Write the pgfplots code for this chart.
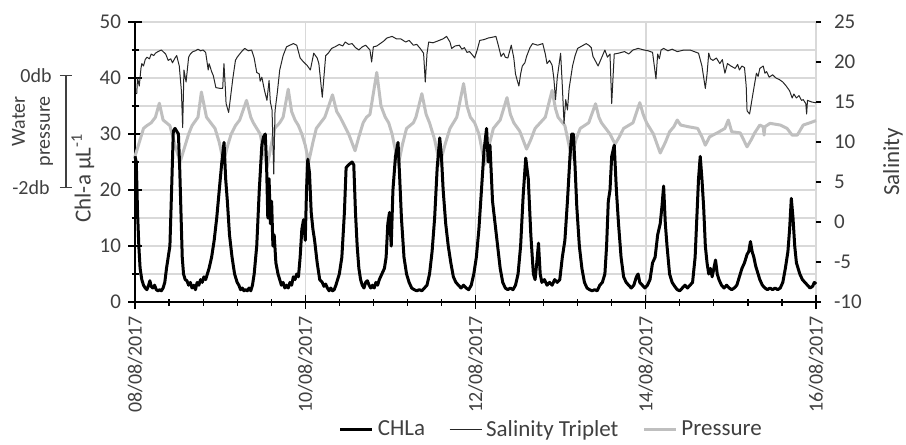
\documentclass[border=0pt]{standalone}
\usepackage{fontspec}
\setmainfont{Carlito}
\usepackage{pgfplots}
\pgfplotsset{compat=1.18}
\definecolor{gridc}{RGB}{217,217,217}
\definecolor{txt}{RGB}{64,64,64}
\definecolor{pres}{RGB}{191,191,191}

\newcommand{\tickfont}{\fontsize{10}{12}\selectfont}
\newcommand{\titlefont}{\fontsize{11.5}{13.5}\selectfont}

\begin{document}
\begin{tikzpicture}
\pgfplotsset{
  base/.style={
    width=340.5pt, height=140pt, scale only axis,
    xmin=0, xmax=8,
    /pgf/number format/assume math mode=true,
    tick label style={font=\tickfont, text=txt},
  }
}
\begin{axis}[
    base,
    ymin=0, ymax=50,
    axis x line*=bottom, axis y line*=left,
    axis line style={-},
    x axis line style={black, line width=0.75pt},
    y axis line style={black, line width=1pt},
    xtick={0,2,4,6,8},
    xticklabels={08/08/2017,10/08/2017,12/08/2017,14/08/2017,16/08/2017},
    minor x tick num=4,
    ytick={0,10,...,50}, minor ytick={5,15,...,45},
    xmajorgrids, ymajorgrids, yminorgrids,
    major grid style={gridc, line width=0.75pt},
    minor grid style={gridc, line width=0.75pt},
    tick align=center, major tick length=7pt, minor tick length=3.5pt,
    tick style={black, line width=0.6pt},
    x tick label style={rotate=90, anchor=east},
    y tick label style={font=\fontsize{10.5}{12}\selectfont},
    ylabel={Chl-a µL\textsuperscript{-1}},
    ylabel style={at={([xshift=-26pt]axis description cs:0,0.443)}, anchor=center, font=\titlefont, text=txt},
    clip=false,
  ]
  \addplot[pres, line width=1.5pt, line join=round] coordinates {
    (0,26) (0.06,29) (0.10,31) (0.14,31.5) (0.19,32) (0.24,33) (0.286,35.5) (0.33,32.5) (0.37,32) (0.41,31.5)
    (0.47,28) (0.53,25) (0.59,28) (0.63,30) (0.67,31.5) (0.74,33) (0.78,37.5) (0.84,33) (0.89,32) (0.94,31)
    (0.99,28.5) (1.04,25) (1.09,28) (1.13,30) (1.18,31.5) (1.23,32.5) (1.31,36) (1.36,33) (1.39,32) (1.43,31)
    (1.47,30) (1.51,27) (1.55,24) (1.60,28) (1.64,31) (1.70,32) (1.74,33) (1.80,38) (1.84,34) (1.88,32.5)
    (1.92,31.5) (1.96,30) (2.00,28) (2.04,25) (2.09,28.5) (2.13,31) (2.18,32) (2.23,33) (2.32,37) (2.37,34)
    (2.41,33) (2.46,31.5) (2.51,30) (2.585,27) (2.63,29.5) (2.68,32) (2.72,33) (2.76,33.5) (2.84,41) (2.89,35)
    (2.94,33) (2.98,32) (3.02,30) (3.094,24.5) (3.14,28) (3.19,31) (3.27,32) (3.30,33) (3.37,37.2) (3.42,33.5)
    (3.46,32) (3.52,29) (3.58,24.6) (3.64,28) (3.70,31) (3.78,33) (3.86,39) (3.90,35) (3.94,33) (3.99,32)
    (4.04,30) (4.11,24.6) (4.16,28) (4.21,31) (4.29,32.5) (4.37,36.5) (4.41,33.5) (4.45,32) (4.52,30.5) (4.60,27.3)
    (4.65,29) (4.70,31) (4.76,32) (4.82,33) (4.90,37.8) (4.94,34.5) (4.97,33) (5.05,31.5) (5.13,25.7) (5.18,29)
    (5.23,31) (5.33,32) (5.41,35.4) (5.45,33) (5.48,32) (5.58,30) (5.64,28.2) (5.69,29.5) (5.74,31) (5.85,32)
    (5.93,35.6) (5.97,33.5) (6.01,32) (6.09,30) (6.17,26.6) (6.23,28.5) (6.28,30.4) (6.33,31.3) (6.37,32.5) (6.41,31.6)
    (6.50,31.3) (6.61,31) (6.66,29.5) (6.70,28) (6.75,29.5) (6.84,30.2) (6.93,31) (6.97,32.5) (7.01,30.4) (7.11,30.2)
    (7.19,27.7) (7.24,29) (7.28,30.2) (7.34,31.6) (7.38,31.3) (7.39,29.8) (7.40,31.3) (7.46,31.9) (7.58,31.6) (7.66,31)
    (7.72,29.8) (7.78,29.8) (7.85,31.6) (7.93,32) (8.0,32.4)
  };
  \addplot[black, line width=1.5pt, line join=round] coordinates {
    (0,26) (0.015,25) (0.03,16) (0.045,10) (0.06,6) (0.08,4) (0.10,3) (0.12,2.5) (0.14,2.2) (0.16,3)
    (0.175,3.8) (0.19,2.8) (0.21,2.5) (0.23,3) (0.25,2.2) (0.27,2) (0.29,2.2) (0.31,2) (0.33,2.5) (0.35,3.5)
    (0.37,6) (0.39,8) (0.41,10) (0.43,20) (0.45,30.5) (0.47,31) (0.49,30.5) (0.51,30) (0.525,24) (0.54,16)
    (0.555,8) (0.57,5) (0.59,4) (0.61,3.8) (0.63,3) (0.65,3.5) (0.67,2.5) (0.69,3) (0.71,2.2) (0.73,3.5)
    (0.75,3) (0.77,4) (0.79,3.5) (0.81,4.5) (0.83,4) (0.85,5) (0.87,6) (0.90,8) (0.93,11) (0.96,15)
    (0.99,20) (1.02,25) (1.046,28.5) (1.065,22) (1.085,18) (1.11,12) (1.14,8) (1.17,5) (1.20,3.5) (1.22,3)
    (1.24,2.2) (1.26,2.5) (1.28,2) (1.30,2.2) (1.32,2) (1.34,2.5) (1.36,2) (1.38,3) (1.40,5) (1.43,10)
    (1.46,20) (1.49,28) (1.51,29.5) (1.53,30) (1.545,25) (1.56,15) (1.575,22) (1.59,14) (1.605,18) (1.62,10)
    (1.635,12) (1.655,7) (1.68,5) (1.70,4) (1.72,3) (1.74,3.5) (1.76,2.5) (1.78,3) (1.80,2.5) (1.82,3.5)
    (1.84,3) (1.86,4.5) (1.88,4) (1.90,5) (1.92,4.5) (1.94,8) (1.96,13) (1.98,14.7) (2.0,11) (2.015,20)
    (2.03,25.5) (2.05,23) (2.07,16) (2.09,13) (2.11,11) (2.14,7) (2.17,4) (2.20,3.5) (2.22,2.8) (2.24,3.2)
    (2.26,2.5) (2.28,2) (2.30,2.5) (2.32,2) (2.34,2.2) (2.36,3) (2.38,4) (2.40,5) (2.43,8) (2.46,16)
    (2.48,24) (2.51,24.5) (2.55,25) (2.57,24.5) (2.59,16) (2.61,10) (2.63,6) (2.65,4) (2.67,3) (2.69,2.5)
    (2.71,3.5) (2.73,3.8) (2.75,3) (2.77,2.5) (2.79,3) (2.81,2.5) (2.83,3.5) (2.85,3) (2.87,4) (2.90,5)
    (2.93,6) (2.95,8) (2.97,14) (2.99,16) (3.01,10) (3.03,20) (3.06,26) (3.09,28.5) (3.11,22) (3.13,15)
    (3.16,8) (3.19,5) (3.22,3.5) (3.25,2.5) (3.28,2.2) (3.31,2) (3.34,2.2) (3.37,2) (3.40,2.5) (3.43,3)
    (3.46,5) (3.49,9) (3.52,15) (3.55,24) (3.58,29.3) (3.60,26) (3.62,20) (3.65,14) (3.68,10) (3.71,7)
    (3.74,4.5) (3.77,3.5) (3.80,3) (3.83,2.5) (3.86,3) (3.89,2.5) (3.92,2.2) (3.95,3) (3.98,5) (4.01,8)
    (4.04,13) (4.07,20) (4.10,27) (4.13,31) (4.15,25) (4.17,28) (4.20,18) (4.23,14) (4.26,10) (4.29,6)
    (4.32,3.5) (4.35,2.5) (4.38,2.2) (4.41,2.5) (4.44,2.2) (4.47,3) (4.50,5) (4.53,10) (4.56,19) (4.59,25.7)
    (4.62,22) (4.65,12) (4.68,5) (4.70,4) (4.72,7) (4.74,10.5) (4.76,5) (4.78,3.5) (4.81,4) (4.84,3)
    (4.87,3.5) (4.90,3) (4.93,4) (4.96,3.5) (4.99,4) (5.02,8) (5.05,11) (5.08,18) (5.11,26) (5.13,30)
    (5.15,30) (5.17,24) (5.19,17) (5.22,10) (5.25,6) (5.28,3.5) (5.31,2.5) (5.34,2.2) (5.37,2) (5.40,2.2)
    (5.43,2) (5.46,3) (5.49,3.5) (5.52,5) (5.54,10) (5.56,18) (5.58,20) (5.60,26) (5.63,28) (5.655,20)
    (5.68,14) (5.71,8) (5.74,4.5) (5.77,3.5) (5.80,3) (5.83,2.5) (5.86,3) (5.89,4.5) (5.91,5) (5.93,3.5)
    (5.96,3) (5.99,2.5) (6.02,3) (6.05,4) (6.08,7) (6.11,8) (6.14,12) (6.17,14) (6.19,17) (6.21,20.7)
    (6.23,14) (6.25,10) (6.28,5) (6.31,3.5) (6.34,2.8) (6.37,2.2) (6.40,2) (6.43,2.5) (6.46,3) (6.49,2.5)
    (6.52,3) (6.55,3.5) (6.58,8) (6.60,15) (6.62,22) (6.64,26) (6.66,22) (6.68,17) (6.70,10) (6.72,7)
    (6.74,5) (6.76,6) (6.78,4.5) (6.80,6) (6.82,7.5) (6.84,5) (6.86,4) (6.89,3) (6.92,2.5) (6.95,3)
    (6.98,2.5) (7.01,2.2) (7.04,2.5) (7.07,3) (7.10,4.5) (7.13,6) (7.16,7) (7.19,8.5) (7.21,9) (7.23,10.8)
    (7.25,9) (7.27,8) (7.29,6.5) (7.31,5.5) (7.34,4) (7.37,3) (7.40,2.5) (7.43,2.2) (7.46,2.5) (7.49,2.2)
    (7.52,2.5) (7.55,2.2) (7.58,2.5) (7.61,3.5) (7.64,6) (7.67,9) (7.69,13) (7.71,18.5) (7.73,15) (7.75,10)
    (7.77,7) (7.79,6) (7.81,5) (7.84,4) (7.87,3.5) (7.90,3) (7.93,2.5) (7.96,2.8) (7.98,3.5) (8.0,3.2)
  };
  % water pressure scale bracket
  \draw[txt, line width=0.7pt] ([xshift=-34.5pt]axis cs:0,40.4) -- ([xshift=-34.5pt]axis cs:0,20.4);
  \draw[txt, line width=0.7pt] ([xshift=-37.5pt]axis cs:0,40.4) -- ([xshift=-31.5pt]axis cs:0,40.4);
  \draw[txt, line width=0.7pt] ([xshift=-37.5pt]axis cs:0,20.4) -- ([xshift=-31.5pt]axis cs:0,20.4);
  \node[anchor=east, font=\tickfont, text=txt, inner sep=0pt] at ([xshift=-41.5pt]axis cs:0,40.4) {0db};
  \node[anchor=east, font=\tickfont, text=txt, inner sep=0pt] at ([xshift=-42.5pt]axis cs:0,20.4) {-2db};
  \node[rotate=90, anchor=east, align=right, inner sep=0pt, text=txt,
        font=\fontsize{10}{12.5}\selectfont] at ([xshift=-51.25pt]rel axis cs:0,0.736) {Water\\pressure};
  \coordinate (bl) at (rel axis cs:0,0);
  \coordinate (tr) at (rel axis cs:1,1);
\end{axis}

\begin{axis}[
    base,
    ymin=-10, ymax=25,
    axis x line=none, axis y line*=right,
    axis line style={-},
    y axis line style={draw=none},
    ytick={-10,-5,...,25},
    tick align=outside, major tick length=2.5pt,
    tick style={black, line width=0.6pt},
    y tick label style={xshift=3pt, font=\fontsize{10.5}{12}\selectfont},
    ylabel={Salinity},
    ylabel style={at={([xshift=38.5pt]axis description cs:1,0.5)}, anchor=center, font=\titlefont, text=txt},
    legend columns=3,
    legend style={at={(rel axis cs:0.29,-0.457)}, anchor=west, draw=none,
      font=\titlefont, text=txt, fill=none,
      /tikz/every even column/.append style={column sep=10pt}},
    legend image code/.code={\draw[#1] (0pt,0pt) -- (16pt,0pt);},
  ]
  \addlegendimage{black, line width=1.5pt}
  \addlegendentry{CHLa}
  \addplot[black!85, line width=0.5pt, line join=round] coordinates {
    (0.02,16) (0.03,18) (0.05,17) (0.07,19.2) (0.08,19.8) (0.10,19.5) (0.12,20.3) (0.14,20.6) (0.17,20.4) (0.19,21)
    (0.22,20.8) (0.24,21.1) (0.27,21.3) (0.31,21.5) (0.34,21.2) (0.36,21) (0.39,20.2) (0.42,20.4) (0.44,19.9) (0.47,20.5)
    (0.49,20.8) (0.52,19.5) (0.545,16.4) (0.56,11.8) (0.575,19) (0.60,17.5) (0.63,20.6) (0.65,21) (0.68,21.3) (0.71,21.4)
    (0.74,21.6) (0.77,21.4) (0.80,21.5) (0.83,21.2) (0.86,19) (0.87,19.8) (0.88,19.5) (0.90,18.8) (0.92,18.3) (0.95,16.8)
    (1.0,16.7) (1.03,16.7) (1.045,19.8) (1.06,17) (1.07,14.8) (1.10,13.7) (1.12,15.4) (1.15,18) (1.18,20.2) (1.20,20.6)
    (1.23,21) (1.26,21.4) (1.29,21.7) (1.33,21.4) (1.37,21.5) (1.40,20.5) (1.43,18.7) (1.46,18.5) (1.47,17.6) (1.49,18.1)
    (1.52,16.5) (1.55,15.2) (1.575,17.7) (1.59,15) (1.61,14) (1.63,6) (1.645,13.9) (1.67,16) (1.70,19) (1.74,20.8)
    (1.78,21.9) (1.82,22.1) (1.86,22.3) (1.90,22.1) (1.94,20.5) (1.98,20) (2.02,19.6) (2.06,19) (2.10,21.1) (2.14,20.5)
    (2.16,19.8) (2.20,15.6) (2.24,20.8) (2.27,21.1) (2.31,21.7) (2.35,21.9) (2.40,22.2) (2.44,22) (2.47,22.5) (2.51,22.2)
    (2.55,22.3) (2.59,21.8) (2.63,21.5) (2.67,21.9) (2.71,22.1) (2.76,21.5) (2.78,20) (2.80,21.9) (2.84,22) (2.88,22.3)
    (2.92,22.6) (2.96,23) (3.02,23.2) (3.07,22.9) (3.12,22.9) (3.18,22.5) (3.22,22.7) (3.27,22.1) (3.31,22.2) (3.35,21.7)
    (3.39,21.1) (3.41,17.5) (3.43,21) (3.45,22.5) (3.50,22.4) (3.55,22.6) (3.62,22.9) (3.66,23.2) (3.70,22.5) (3.72,21.7)
    (3.76,22) (3.81,22.1) (3.84,21.6) (3.87,21.8) (3.90,21.2) (3.93,21.3) (3.97,20.8) (3.99,20.5) (4.02,21.5) (4.05,22.7)
    (4.10,22.8) (4.15,23) (4.20,23.1) (4.24,23.2) (4.27,22) (4.30,20.7) (4.33,21.1) (4.35,20.6) (4.38,20.5) (4.42,22.1)
    (4.45,20.5) (4.47,18.5) (4.49,17.7) (4.51,17) (4.53,18.5) (4.55,19.5) (4.58,19.9) (4.60,20.7) (4.64,21.8) (4.67,22.3)
    (4.73,22.1) (4.79,22.3) (4.82,21) (4.84,19.8) (4.87,20.2) (4.90,19.6) (4.92,18) (4.94,15.3) (4.96,18) (5.0,21.1)
    (5.02,17) (5.04,12.3) (5.06,15.3) (5.08,14) (5.10,16.7) (5.14,19.5) (5.17,20.8) (5.20,21.7) (5.25,22) (5.30,22.3)
    (5.33,22.1) (5.36,21.8) (5.38,20.7) (5.41,20.1) (5.44,19.5) (5.48,20.5) (5.52,21.5) (5.55,20.6) (5.58,21) (5.60,14.8)
    (5.62,19) (5.63,21) (5.68,21.1) (5.75,21.3) (5.80,21) (5.85,21.5) (5.91,21.7) (5.98,21.5) (6.03,21.4) (6.08,21.2)
    (6.12,17.9) (6.14,21) (6.16,20.4) (6.18,21.5) (6.21,21.7) (6.26,21.4) (6.31,21.6) (6.37,21.3) (6.45,21.5) (6.52,21.5)
    (6.57,21.3) (6.62,21.1) (6.66,19.5) (6.70,16.7) (6.72,18.5) (6.74,21.1) (6.76,20.4) (6.79,20.2) (6.83,20.5) (6.87,19.8)
    (6.90,20.3) (6.93,18.6) (6.96,19.8) (7.0,19.5) (7.05,19.2) (7.08,19.7) (7.10,19) (7.13,19.5) (7.16,19.3) (7.18,17)
    (7.19,13.9) (7.22,13.5) (7.24,14.8) (7.26,16.1) (7.30,18.6) (7.32,18.2) (7.34,19.2) (7.38,19.5) (7.40,18.6) (7.42,18.8)
    (7.45,18.1) (7.49,18.4) (7.53,18) (7.57,17.8) (7.61,17.5) (7.65,17) (7.69,16.4) (7.72,15.5) (7.74,16) (7.77,15.5)
    (7.80,15.8) (7.83,15.2) (7.85,15.3) (7.88,14.8) (7.89,13.5) (7.90,15.2) (7.95,15) (8.0,14.9)
  };
  \addlegendentry{Salinity Triplet}
  \addlegendimage{pres, line width=1.5pt}
  \addlegendentry{Pressure}
\end{axis}
\pgfresetboundingbox
\path[use as bounding box] ([shift={(-67.5pt,-71pt)}]bl) rectangle ([shift={(45pt,11pt)}]tr);
\end{tikzpicture}
\end{document}
